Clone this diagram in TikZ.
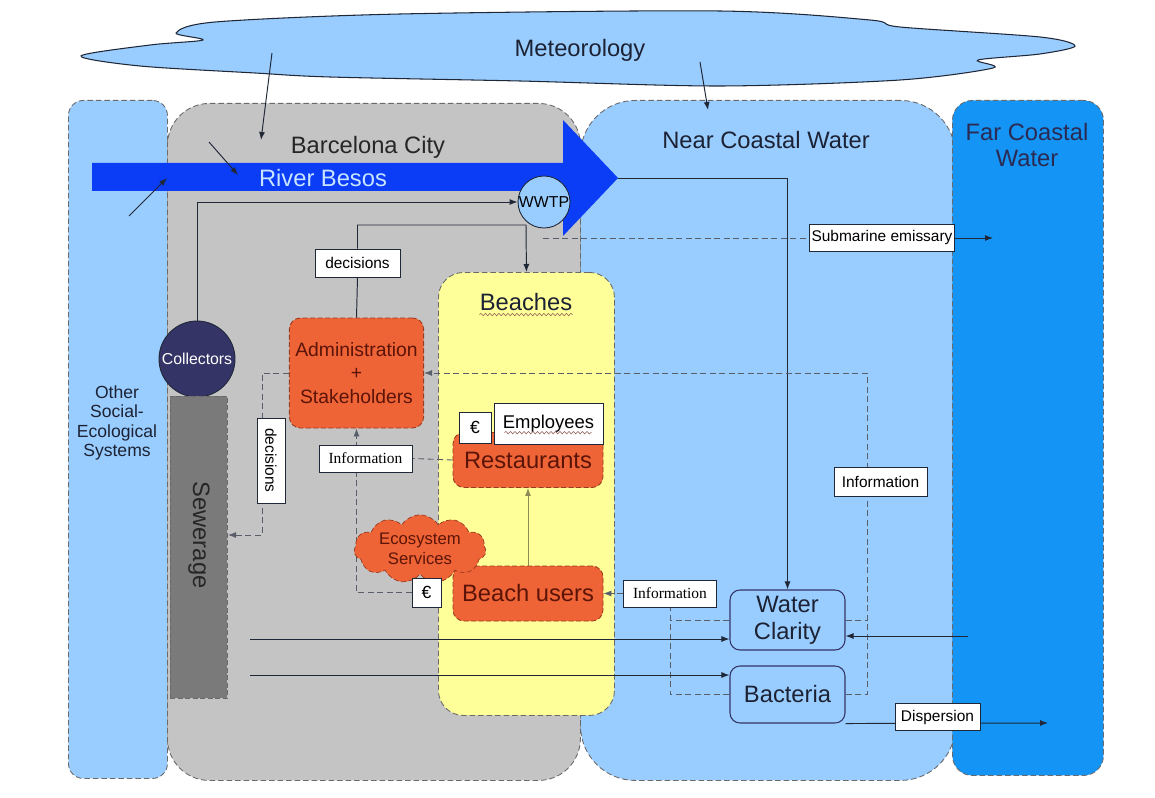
\documentclass[tikz,border=0pt]{standalone}
\usepackage{fontspec}
\setmainfont{Liberation Sans}
\newfontfamily\bcSerif{Liberation Serif}
\usepackage{xcolor}
\usepackage{tikz}
\usetikzlibrary{
    arrows.meta,
    positioning,
    calc,
    backgrounds,
    shapes.symbols,
    decorations.pathmorphing
}
\pgfdeclarelayer{wires}
\pgfsetlayers{background,wires,main}
\definecolor{bcSky}{HTML}{99CCFF}
\definecolor{bcSea}{HTML}{1494F5}
\definecolor{bcRiver}{HTML}{0A3DF5}
\definecolor{bcRiverText}{HTML}{C8E4FF}
\definecolor{bcCity}{HTML}{C4C4C4}
\definecolor{bcSand}{HTML}{FFFF99}
\definecolor{bcActor}{HTML}{EE6436}
\definecolor{bcActorText}{HTML}{5C1408}
\definecolor{bcActorEdge}{HTML}{9A3A1E}
\definecolor{bcSewer}{HTML}{7A7A7A}
\definecolor{bcNavy}{HTML}{343466}
\definecolor{bcInk}{HTML}{1C2233}
\definecolor{bcWire}{HTML}{202838}
\definecolor{bcEdge}{HTML}{6A6A6A}
\tikzset{
    bcRegion/.style={
        draw=bcEdge,
        dash pattern=on 1.1mm off 0.6mm,
        line width=0.5pt,
        anchor=north west,
        inner sep=0pt
    },
    bcTitle/.style={
        inner sep=0pt,
        text=bcInk,
        align=center,
        font={\fontsize{13.5}{14.5}\selectfont}
    },
    bcActor/.style={
        draw=bcActorEdge,
        dash pattern=on 1mm off 0.5mm,
        fill=bcActor,
        text=bcActorText,
        rounded corners=2.2mm,
        align=center,
        line width=0.5pt,
        font={\fontsize{13.5}{15}\selectfont}
    },
    bcTag/.style={
        draw=bcWire,
        fill=white,
        inner sep=0pt,
        line width=0.5pt,
        font={\fontsize{8.8}{10}\selectfont}
    },
    bcInfo/.style={
        bcTag,
        minimum width=18.6mm,
        minimum height=5.4mm,
        font={\bcSerif\fontsize{8.8}{10}\selectfont}
    },
    bcHub/.style={
        circle,
        draw=bcWire,
        inner sep=0pt,
        line width=0.5pt,
        font={\fontsize{9}{10}\selectfont}
    },
    bcState/.style={
        draw=bcNavy,
        rounded corners=2mm,
        line width=0.6pt,
        minimum width=23mm,
        align=center,
        text=bcInk,
        font={\fontsize{13.5}{15.4}\selectfont}
    },
    bcArrow/.style={-{Latex[length=1.6mm,width=1.2mm]},line width=0.55pt,draw=bcWire},
    bcLine/.style={line width=0.55pt,draw=bcWire},
    bcDash/.style={dash pattern=on 1.2mm off 0.7mm,line width=0.5pt,draw=bcWire!75},
    bcDashArrow/.style={bcDash,-{Latex[length=1.6mm,width=1.2mm]}},
    bcSquiggle/.style={
        decorate,
        decoration={snake,amplitude=0.25mm,segment length=0.9mm},
        draw=bcActorText!70,
        line width=0.3pt
    }
}

\begin{document}
\begin{tikzpicture}[x=0.2mm,y=-0.2mm]
    \useasboundingbox (0,0) rectangle (1155,798);

    % the four areas and the beaches
    \begin{scope}[on background layer]
        \node[bcRegion,fill=bcSky,rounded corners=3mm,
            minimum width=19.8mm,minimum height=135.6mm] (other) at (68,100) {};
        \node[bcRegion,fill=bcSky,rounded corners=11mm,
            minimum width=75mm,minimum height=136mm] (near) at (580,100) {};
        \node[bcRegion,fill=bcCity,rounded corners=8.4mm,
            minimum width=82.6mm,minimum height=135.4mm] (city) at (167,103) {};
        \node[bcRegion,fill=bcSea,rounded corners=4mm,
            minimum width=30.2mm,minimum height=135mm] (far) at (952,100) {};
        \node[bcRegion,fill=bcSand,rounded corners=5mm,
            minimum width=35.2mm,minimum height=88.6mm] (beaches) at (438,272) {};
    \end{scope}

    \node[bcTitle,text=black!85] (cityLbl) at (368,147) {Barcelona City};
    \node[bcTitle] (nearLbl) at (766,140) {Near Coastal Water};
    \node[bcTitle,text=bcNavy!80!black] (farLbl) at (1027,145) {Far Coastal\\Water};
    \node[bcTitle,font={\fontsize{10}{11}\selectfont}] (otherLbl) at (117,423)
        {Other\\Social-\\Ecological\\Systems};
    \node[bcTitle] (beachLbl) at (526,302) {Beaches};
    \draw[bcSquiggle] ([yshift=-2pt]beachLbl.south west) -- ([yshift=-2pt]beachLbl.south east);

    % meteorology
    \draw[draw=bcWire,fill=bcSky,line width=0.6pt]
        plot[smooth cycle,tension=0.5] coordinates {
            (81,56) (150,45) (203,40) (176,33) (215,22) (400,14) (720,11)
            (870,20) (900,27) (1040,37) (1075,46) (1040,54) (978,60) (993,68)
            (900,80) (720,86) (520,81) (330,77) (255,73) (140,66)};
    \node[bcTitle] (metLbl) at (580,50) {Meteorology};

    % river
    \fill[bcRiver] (92,163) -- (563,163) -- (563,120) -- (618,178)
        -- (563,236) -- (563,191) -- (92,191) -- cycle;
    \coordinate (riverTip) at (618,178);
    \node[bcTitle,text=bcRiverText] (riverLbl) at (323,178) {River Besos};

    \coordinate (metOutA) at (272,53);
    \coordinate (metInA) at (261,140);
    \coordinate (metOutB) at (700,62);
    \coordinate (metInB) at (708,110);
    \coordinate (runOffA) at (209,142);
    \coordinate (runInA) at (238,175);
    \coordinate (runOffB) at (129,216);
    \coordinate (runInB) at (167,178);
    \draw[bcArrow] (metOutA) -- (metInA);
    \draw[bcArrow] (metOutB) -- (metInB);
    \draw[bcArrow] (runOffA) -- (runInA);
    \draw[bcArrow] (runOffB) -- (runInB);

    % city
    \node[bcHub,fill=bcSky,minimum size=10.4mm] (wwtp) at (544,202) {WWTP};
    \node[bcHub,fill=bcNavy,text=white,minimum size=15.2mm] (coll) at (197,359) {Collectors};
    \node[draw=bcEdge,dash pattern=on 1mm off 0.5mm,fill=bcSewer,
        minimum width=11.4mm,minimum height=60.4mm] (sewer) at (198.5,547) {};
    \node[bcTitle,text=black!85,rotate=-90] (sewerLbl) at (199,535) {Sewerage};

    \node[bcActor,minimum width=24.6mm,minimum height=22mm,
        font={\fontsize{11}{13.6}\selectfont}] (admin) at (356.5,373)
        {Administration\\+\\Stakeholders};
    \node[bcTag,minimum width=17mm,minimum height=5.6mm] (dec1) at (357.5,263) {decisions};
    \node[bcTag,minimum width=17mm,minimum height=5.6mm,rotate=-90] (dec2) at (271,460.5) {decisions};
    \node[bcInfo] (info1) at (365.5,458.5) {Information};

    % beaches
    \node[bcActor,minimum width=30mm,minimum height=11mm] (rest) at (528,460) {Restaurants};
    \node[bcTag,minimum width=21.8mm,minimum height=8.2mm,
        font={\fontsize{10.5}{12}\selectfont}] (empl) at (548.5,423.5) {Employees};
    \draw[bcSquiggle] ([yshift=-2.5pt]empl.base west) ++(2.2mm,0) -- ++(17.4mm,0);
    \node[bcTag,minimum width=6.4mm,minimum height=6.2mm,
        font={\fontsize{10}{12}\selectfont}] (eurA) at (475,427.5) {€};
    \node[bcActor,minimum width=30mm,minimum height=11mm] (users) at (528,593.5) {Beach users};
    \node[cloud,cloud puffs=11,cloud puff arc=115,aspect=2.2,draw=bcActorEdge,
        dash pattern=on 1mm off 0.5mm,fill=bcActor,text=bcActorText,align=center,
        inner sep=0pt,minimum width=26.4mm,minimum height=11.8mm,
        font={\fontsize{9.5}{11.4}\selectfont}] (eco) at (420,549) {Ecosystem\\Services};
    \node[bcTag,minimum width=5.8mm,minimum height=5.8mm,
        font={\fontsize{10}{12}\selectfont}] (eurB) at (426.5,592.5) {€};

    % near coastal water
    \node[bcState,minimum height=11.2mm] (wc) at (787.5,620) {Water\\Clarity};
    \node[bcState,minimum height=11.4mm] (bact) at (787.5,694.5) {Bacteria};
    \node[bcInfo] (info3) at (670,593.5) {Information};
    \node[bcTag,minimum width=18.6mm,minimum height=5.8mm] (info2) at (880.5,481.5) {Information};
    \node[bcTag,minimum width=29mm,minimum height=5.4mm] (emis) at (882,238) {Submarine emissary};
    \node[bcTag,minimum width=17mm,minimum height=5.4mm] (disp) at (937.5,717) {Dispersion};

    \coordinate (emisStart) at (543,238);
    \coordinate (emisEnd) at (993,238);
    \coordinate (sewerIn) at (228,535);
    \coordinate (infoRise) at (867,373);
    \coordinate (cityOutA) at (250,639);
    \coordinate (cityOutB) at (250,675);
    \coordinate (farIn) at (968,636);
    \coordinate (dispEnd) at (1048,723);

    \begin{pgfonlayer}{wires}
        \draw[bcArrow] (coll.north) |- (wwtp.west);
        \draw[bcLine] (admin.north) -- (dec1.south);
        \draw[bcArrow] (dec1.north) |- (526,225) -- (beaches.north);
        \draw[bcArrow] (riverTip) -| (wc.north);
        \draw[bcDash] (emisStart) -- (emis.west);
        \draw[bcArrow] (emis.east) -- (emisEnd);
        \draw[bcDashArrow] (admin.west) -| ($(sewerIn)+(34,0)$) -- (sewerIn);
        \draw[bcDashArrow] (eurB.west) -| (admin.south);
        \draw[bcDash] (rest.west) -- (info1.east);
        \draw[-{Latex[length=1.6mm,width=1.2mm]},line width=0.55pt,draw=black!45!bcSand]
            (users.north) -- (rest.south);
        \draw[bcDashArrow] (bact.east) -| (infoRise) -- (admin.east);
        \draw[bcDash] (wc.east) -- (wc.east -| infoRise);
        \draw[bcDash] (bact.west) -| (info3.south);
        \draw[bcDash] (wc.west) -- (wc.west -| info3.south);
        \draw[bcDashArrow] (info3.west) -- (users.east);
        \draw[bcArrow] (cityOutA) -- (cityOutA -| wc.west);
        \draw[bcArrow] (cityOutB) -- (cityOutB -| bact.west);
        \draw[bcArrow] (farIn) -- (farIn -| wc.east);
        \draw[bcArrow] (bact.south east) -- (dispEnd);
    \end{pgfonlayer}
\end{tikzpicture}
\end{document}
